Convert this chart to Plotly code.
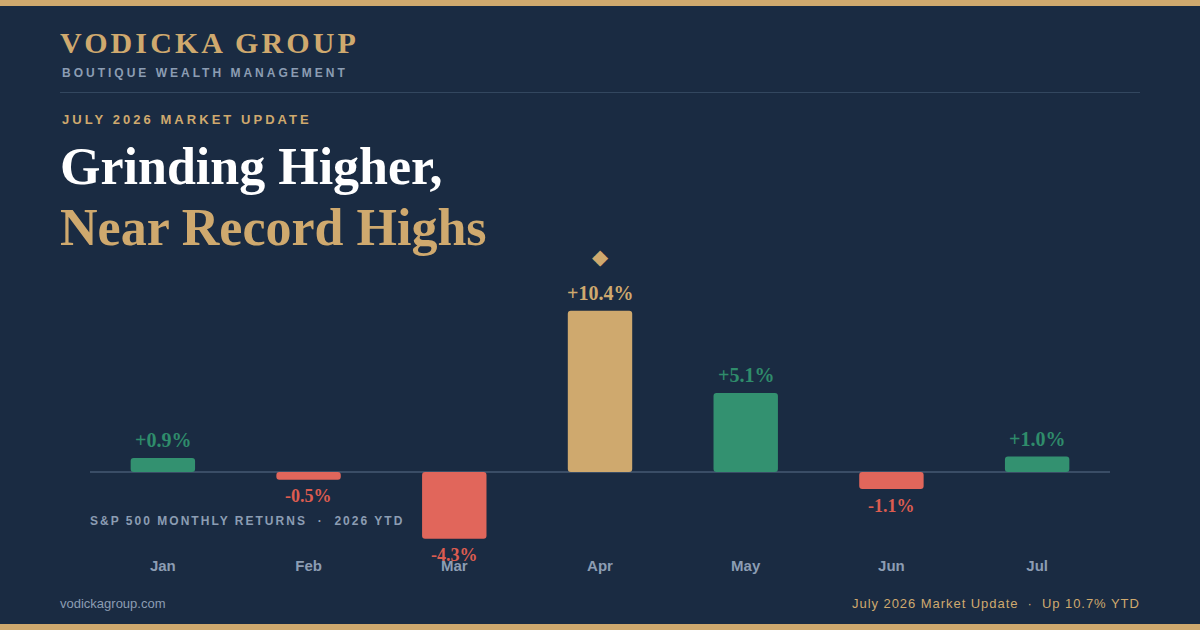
import json

import plotly.graph_objects as go

W, H = 1200, 630

months = ["Jan", "Feb", "Mar", "Apr", "May", "Jun", "Jul"]
returns = [0.9, -0.5, -4.3, 10.4, 5.1, -1.1, 1.0]
return_labels = ["+0.9%", "-0.5%", "-4.3%", "+10.4%", "+5.1%", "-1.1%", "+1.0%"]

NAVY = "#1a2b42"
GOLD = "#cfa96e"
GREEN = "#339170"
RED = "#e1665b"
GREEN_TEXT = "#2f8c6b"
RED_TEXT = "#dc5c50"
SLATE = "#8c9db3"
RULE = "#33475f"
ZERO_LINE = "#3a4d66"
SERIF = "Liberation Serif"
SANS = "Liberation Sans"

peak = max(returns)


def bar_colour(v):
    if v == peak:
        return GOLD
    return GREEN if v > 0 else RED


def label_colour(v):
    if v == peak:
        return GOLD
    return GREEN_TEXT if v > 0 else RED_TEXT


def px_x(x):
    return x / W


def px_y(y):
    return 1 - y / H


def text_at(text, x, y, size, color, family=SANS, bold=False, align="left"):
    return dict(
        text=text, x=px_x(x), y=px_y(y), xref="paper", yref="paper",
        xanchor=align, yanchor="middle", align=align, showarrow=False,
        font=dict(family=family, size=size, color=color, weight=700 if bold else 400),
    )


fig = go.Figure()
# an explicit base makes plotly round both ends of the bar, not only the far one
fig.add_trace(go.Bar(
    x=months, y=returns, base=0,
    marker=dict(color=[bar_colour(v) for v in returns], line_width=0),
    width=0.442,
    hovertemplate="%{x}: %{y}%<extra></extra>",
))

annotations = [
    text_at("VODICKA GROUP", 58, 43, 30, GOLD, SERIF, True),
    text_at("BOUTIQUE WEALTH MANAGEMENT", 60, 73, 12, SLATE, SANS, True),
    text_at("JULY 2026 MARKET UPDATE", 60, 119, 13, GOLD, SANS, True),
    text_at("Grinding Higher,", 58, 167, 52, "#ffffff", SERIF, True),
    text_at("Near Record Highs", 58, 227, 52, GOLD, SERIF, True),
    text_at("S&P 500 MONTHLY RETURNS \u00a0·\u00a0 2026 YTD", 88, 521, 12, SLATE, SANS, True),
    text_at("vodickagroup.com", 58, 603, 13, SLATE),
    text_at("July 2026 Market Update \u00a0·\u00a0 Up 10.7% YTD", 1142, 603, 13, GOLD, align="right"),
]

# value labels hang off the bar ends, so they follow the y scale
for month, value, label in zip(months, returns, return_labels):
    annotations.append(dict(
        x=month, y=value, xref="x", yref="y", text=label, showarrow=False,
        yanchor="middle", yshift=18 if value > 0 else -16.5,
        font=dict(family=SERIF, size=20 if value > 0 else 18, color=label_colour(value), weight=700),
    ))
annotations.append(dict(
    x=months[returns.index(peak)], y=peak, xref="x", yref="y", text="◆", showarrow=False,
    yanchor="middle", yshift=54,
    font=dict(family="DejaVu Sans", size=21, color=GOLD),
))

fig.update_layout(
    width=W, height=H,
    autosize=False,
    paper_bgcolor=NAVY, plot_bgcolor=NAVY,
    margin=dict(l=0, r=0, t=0, b=0),
    showlegend=False,
    barcornerradius=3,
    annotations=annotations,
    shapes=[
        dict(type="rect", xref="paper", yref="paper", x0=0, x1=1, y0=px_y(6), y1=1,
             fillcolor=GOLD, line_width=0),
        dict(type="rect", xref="paper", yref="paper", x0=0, x1=1, y0=0, y1=px_y(624),
             fillcolor=GOLD, line_width=0),
        dict(type="line", xref="paper", yref="paper", x0=px_x(60), x1=px_x(1140),
             y0=px_y(92.5), y1=px_y(92.5), line=dict(color=RULE, width=1)),
    ],
    xaxis=dict(
        domain=[px_x(90), px_x(1110)],
        range=[-0.5, 6.5],
        showgrid=False, showline=False, ticks="", zeroline=False,
        tickfont=dict(family=SANS, size=15, color=SLATE, weight=700),
    ),
    yaxis=dict(
        domain=[px_y(555), px_y(239.5)],
        range=[-5.355, 15],
        showgrid=False, showline=False, showticklabels=False, ticks="",
        zeroline=True, zerolinecolor=ZERO_LINE, zerolinewidth=2,
    ),
)

# plotly has no letter spacing option, so set it on the drawn text
tracking = {
    "VODICKA GROUP": 3.1,
    "BOUTIQUE WEALTH MANAGEMENT": 3,
    "JULY 2026 MARKET UPDATE": 3.05,
    "S&P 500 MONTHLY RETURNS \u00a0·\u00a0 2026 YTD": 2.02,
    "July 2026 Market Update \u00a0·\u00a0 Up 10.7% YTD": 0.95,
}
post_script = """
document.body.style.margin = '0';
var tracking = %s;
document.getElementById('{plot_id}').querySelectorAll('.annotation-text').forEach(function (t) {
    var s = tracking[t.textContent];
    if (s) { t.style.letterSpacing = s + 'px'; }
});
""" % json.dumps(tracking)

fig.write_html("out.html", post_script=post_script, config=dict(displayModeBar=False))
